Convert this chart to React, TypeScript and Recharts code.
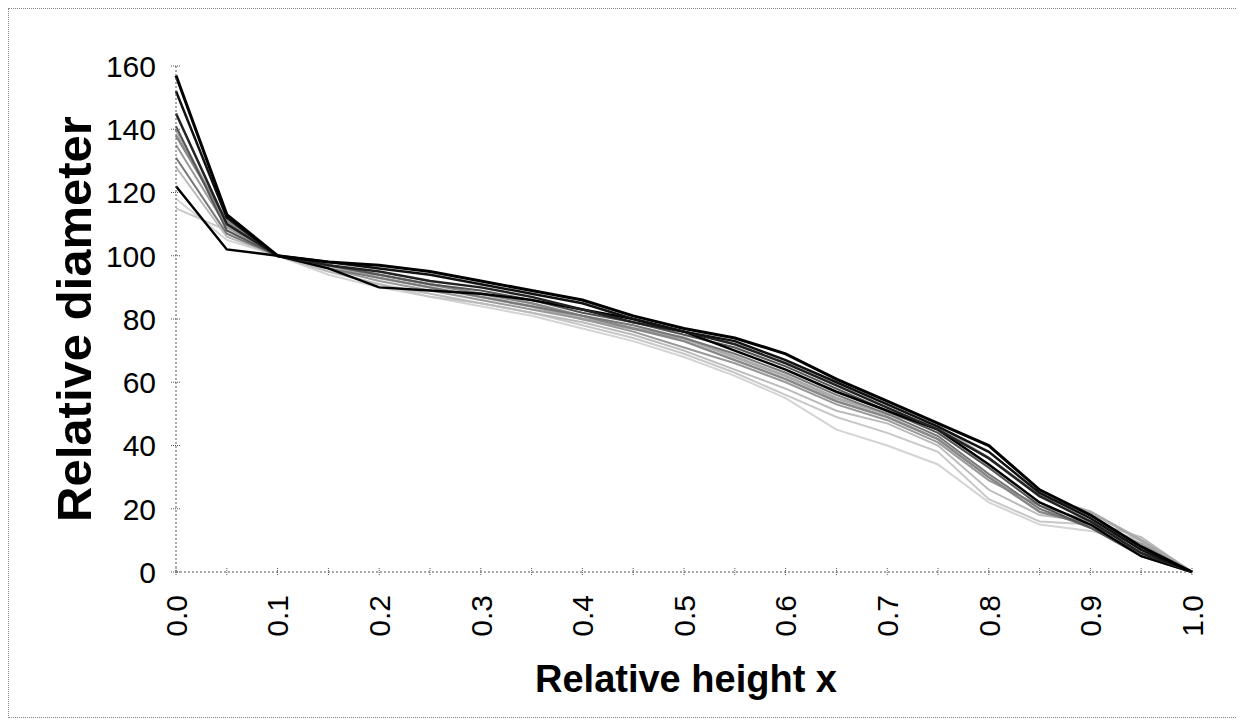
import React from "react";
import { LineChart, Line, XAxis, YAxis } from "recharts";

// relative height (x) sample points
const heights = [
  0, 0.05, 0.1, 0.15, 0.2, 0.25, 0.3, 0.35, 0.4, 0.45, 0.5, 0.55, 0.6, 0.65, 0.7,
  0.75, 0.8, 0.85, 0.9, 0.95, 1.0,
];

// relative diameter per stem
const stem1 = [157, 113, 100, 98, 97, 95, 92, 89, 86, 81, 77, 74, 69, 61, 54, 47, 40, 26, 18, 8, 0];
const stem2 = [152, 112, 100, 98, 96, 94, 91, 88, 85, 80, 76, 73, 67, 60, 53, 46, 38, 25, 17, 7, 0];
const stem3 = [145, 110, 100, 97, 95, 92, 90, 87, 83, 79, 76, 72, 66, 59, 52, 45, 36, 24, 16, 6, 0];
const stem4 = [122, 102, 100, 96, 90, 89, 88, 86, 83, 80, 76, 70, 64, 57, 51, 45, 34, 22, 15, 5, 0];
const stem5 = [141, 108, 100, 97, 94, 91, 89, 86, 82, 79, 75, 71, 65, 58, 51, 44, 33, 21, 14, 5, 0];
const stem6 = [131, 107, 100, 96, 93, 90, 87, 84, 81, 78, 74, 69, 63, 56, 50, 43, 31, 20, 14, 6, 0];
const stem7 = [138, 111, 100, 97, 94, 91, 88, 85, 81, 77, 73, 67, 61, 54, 49, 42, 30, 19, 15, 8, 0];
const stem8 = [135, 109, 100, 96, 92, 89, 86, 83, 80, 76, 71, 66, 60, 53, 48, 41, 29, 21, 16, 9, 0];
const stem9 = [140, 110, 100, 97, 93, 90, 87, 84, 80, 77, 74, 68, 62, 55, 50, 46, 36, 24, 19, 10, 0];
const stem10 = [128, 106, 100, 95, 91, 88, 85, 82, 79, 75, 70, 64, 58, 51, 47, 40, 26, 18, 16, 11, 0];
const stem11 = [115, 108, 100, 95, 91, 87, 85, 82, 78, 74, 69, 63, 56, 49, 44, 38, 23, 16, 15, 10, 0];
const stem12 = [118, 105, 100, 94, 90, 87, 84, 81, 77, 73, 68, 62, 55, 45, 40, 34, 22, 15, 13, 9, 0];

const yTicks = [0, 20, 40, 60, 80, 100, 120, 140, 160];

const series = [
  { key: "s12", values: stem12, color: "#d4d4d4", width: 2 },
  { key: "s11", values: stem11, color: "#c8c8c8", width: 2 },
  { key: "s10", values: stem10, color: "#bbbbbb", width: 2 },
  { key: "s9", values: stem9, color: "#aaaaaa", width: 3 },
  { key: "s8", values: stem8, color: "#999999", width: 2 },
  { key: "s7", values: stem7, color: "#888888", width: 2.5 },
  { key: "s6", values: stem6, color: "#777777", width: 2 },
  { key: "s5", values: stem5, color: "#555555", width: 2 },
  { key: "s4", values: stem4, color: "#000000", width: 2.5 },
  { key: "s3", values: stem3, color: "#222222", width: 2.5 },
  { key: "s2", values: stem2, color: "#111111", width: 2.5 },
  { key: "s1", values: stem1, color: "#000000", width: 3 },
];

const data = heights.map((h, i) => {
  const row: any = { x: h };
  series.forEach((s) => {
    row[s.key] = s.values[i];
  });
  return row;
});

const FONT = "Arial, 'Liberation Sans', Helvetica, sans-serif";
const AXIS = "#555555";

const XTick = (props: any) => {
  const { x, y, payload } = props;
  const v = payload.value as number;
  const major = Math.round(v * 100) % 10 === 0;
  const ty = y + 23;
  return (
    <g>
      <line x1={x} x2={x} y1={y - 4} y2={y + 4} stroke={AXIS} strokeWidth={1} strokeDasharray="1 1" />
      {major && (
        <text
          x={x}
          y={ty}
          transform={`rotate(-90 ${x} ${ty})`}
          textAnchor="end"
          dy="0.36em"
          fontSize={30}
          fontFamily={FONT}
          fill="#000"
        >
          {v.toFixed(1)}
        </text>
      )}
    </g>
  );
};

const YTick = (props: any) => {
  const { x, y, payload } = props;
  return (
    <g>
      <line x1={x - 5} x2={x + 5} y1={y} y2={y} stroke={AXIS} strokeWidth={1} strokeDasharray="1 1" />
      <text x={x - 20} y={y} textAnchor="end" dy="0.36em" fontSize={30} fontFamily={FONT} fill="#000">
        {payload.value}
      </text>
    </g>
  );
};

const YLabel = (props: any) => {
  const vb = props.viewBox || { x: 40, y: 57, width: 127, height: 506 };
  const cx = vb.x + 42;
  const cy = vb.y + vb.height / 2;
  return (
    <text
      x={cx}
      y={cy}
      transform={`rotate(-90 ${cx} ${cy})`}
      textAnchor="middle"
      fontSize={49}
      fontWeight="bold"
      fontFamily={FONT}
      fill="#000"
    >
      Relative diameter
    </text>
  );
};

const XLabel = (props: any) => {
  const vb = props.viewBox || { x: 167, y: 563, width: 1016, height: 130 };
  const cx = vb.x + vb.width / 2 + 2;
  const cy = vb.y + 120;
  return (
    <text x={cx} y={cy} textAnchor="middle" fontSize={38} fontWeight="bold" fontFamily={FONT} fill="#000">
      Relative height x
    </text>
  );
};

export default function App() {
  return (
    <div
      style={{
        width: 1228,
        height: 708,
        border: "1px dotted #888",
        background: "#fff",
      }}
    >
      <LineChart
        width={1228}
        height={708}
        data={data}
        margin={{ top: 57, right: 45, left: 40, bottom: 15 }}
      >
        <XAxis
          dataKey="x"
          type="number"
          domain={[0, 1]}
          ticks={heights}
          interval={0}
          tickSize={0}
          tickMargin={0}
          tickLine={false}
          height={130}
          stroke={AXIS}
          strokeDasharray="2 2"
          tick={<XTick />}
          label={{ content: <XLabel /> }}
        />
        <YAxis
          type="number"
          domain={[0, 160]}
          ticks={yTicks}
          interval={0}
          tickSize={0}
          tickMargin={0}
          tickLine={false}
          width={127}
          stroke={AXIS}
          strokeDasharray="2 2"
          tick={<YTick />}
          label={{ content: <YLabel /> }}
        />
        {series.map((s) => (
          <Line
            key={s.key}
            type="linear"
            dataKey={s.key}
            stroke={s.color}
            strokeWidth={s.width}
            dot={false}
            activeDot={false}
            isAnimationActive={false}
          />
        ))}
      </LineChart>
    </div>
  );
}
